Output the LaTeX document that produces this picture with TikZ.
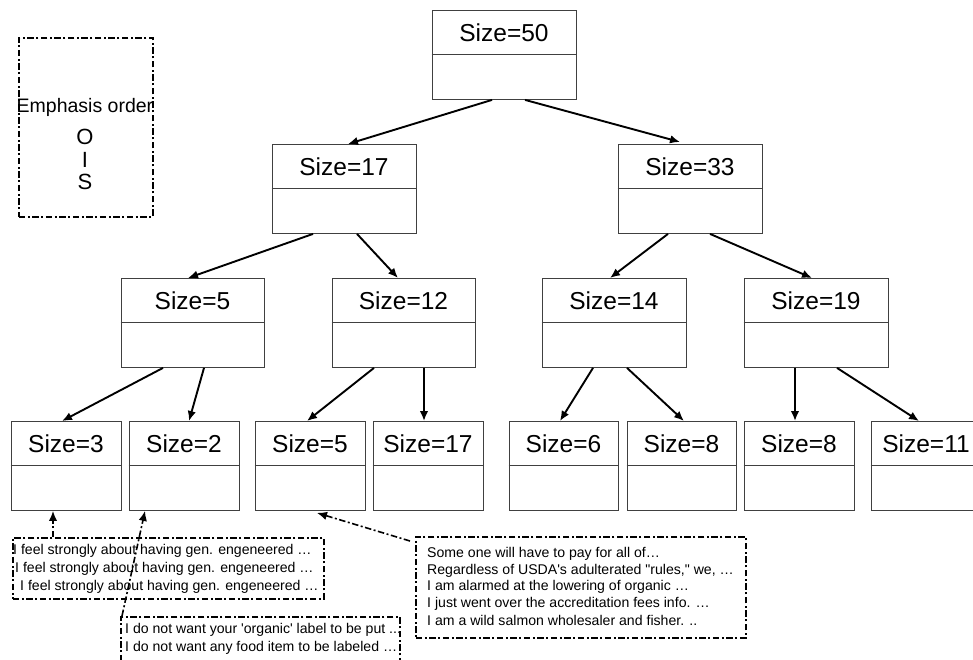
\documentclass[tikz,border=0pt]{standalone}
\usepackage{fontspec}
\newfontfamily\arial{Liberation Sans}
\usetikzlibrary{arrows.meta}

% size box: name, centre x, top y, width, label
\newcommand\sizenode[5]{%
  \node[sbox, minimum width=#4pt] (#1) at (#2,#3) {};
  \node[slabel] (#1-label) at ([yshift=-22.5pt]#1.north) {#5};
  \draw[boxline] ([yshift=-44.5pt]#1.north west) -- ([yshift=-44.5pt]#1.north east);
}

\begin{document}
\begin{tikzpicture}[x=1pt,y=-1pt,
  boxline/.style={draw=black!75, line width=0.9pt},
  sbox/.style={boxline, anchor=north, minimum height=89pt, inner sep=0pt},
  slabel/.style={font=\arial\fontsize{24.5}{28}\selectfont, inner sep=0pt},
  link/.style={line width=1.9pt, -{Latex[length=10pt,width=8.5pt]}},
  dashdot/.style={line width=1.6pt, dash pattern=on 6.5pt off 2.5pt on 2pt off 2.5pt},
  cbox/.style={draw, dashdot, anchor=north west, inner sep=0pt},
  ctext/.style={font=\arial\fontsize{14.1}{16}\selectfont, anchor=west, inner sep=0pt},
  etext/.style={font=\arial\fontsize{19.5}{23}\selectfont, inner sep=0pt},
  eletter/.style={font=\arial\fontsize{22}{24}\selectfont, inner sep=0pt},
  clink/.style={dashdot, -{Latex[length=10pt,width=8.5pt]}},
]
\clip (0,0) rectangle (973,659);
\fill[white] (0,0) rectangle (973,659);

% emphasis legend
\node[cbox, minimum width=134pt, minimum height=179pt] (emph) at (18,37) {};
\node[etext] (emph-1) at (85,107) {Emphasis order};
\node[eletter] (emph-2) at (85,137) {O};
\node[eletter] (emph-3) at (85,160) {I};
\node[eletter] (emph-4) at (85,182) {S};

% tree
\sizenode{n50}{504}{10}{144}{Size=50}
\sizenode{n17}{344}{144}{144}{Size=17}
\sizenode{n33}{690}{144}{144}{Size=33}
\sizenode{n5a}{192.5}{278}{143}{Size=5}
\sizenode{n12}{403.5}{278}{143}{Size=12}
\sizenode{n14}{614}{278}{144}{Size=14}
\sizenode{n19}{816}{278}{144}{Size=19}
\sizenode{n3}{66}{421}{110}{Size=3}
\sizenode{n2}{184}{421}{110}{Size=2}
\sizenode{n5b}{310}{421}{110}{Size=5}
\sizenode{n17b}{428}{421}{110}{Size=17}
\sizenode{n6}{563.5}{421}{109}{Size=6}
\sizenode{n8a}{681.5}{421}{109}{Size=8}
\sizenode{n8b}{799}{421}{110}{Size=8}
\sizenode{n11}{926}{421}{110}{Size=11}

\draw[link] ([xshift=-12pt]n50.south) -- ([xshift=4pt]n17.north);
\draw[link] ([xshift=21pt]n50.south) -- ([xshift=-10pt,yshift=2pt]n33.north);
\draw[link] ([xshift=-31pt]n17.south) -- ([xshift=-4.5pt]n5a.north);
\draw[link] ([xshift=13pt]n17.south) -- ([xshift=-5.5pt]n12.north);
\draw[link] ([xshift=-22pt]n33.south) -- ([xshift=-4pt]n14.north);
\draw[link] ([xshift=20pt]n33.south) -- ([xshift=-4pt]n19.north);
\draw[link] ([xshift=-29.5pt]n5a.south) -- ([xshift=-4pt]n3.north);
\draw[link] ([xshift=11.5pt]n5a.south) -- ([xshift=5pt]n2.north);
\draw[link] ([xshift=-29.5pt]n12.south) -- ([xshift=-3pt]n5b.north);
\draw[link] ([xshift=20.5pt]n12.south) -- ([xshift=-4pt]n17b.north);
\draw[link] ([xshift=-21pt]n14.south) -- ([xshift=-3.5pt]n6.north);
\draw[link] ([xshift=13pt]n14.south) -- ([xshift=2.5pt]n8a.north);
\draw[link] ([xshift=-21pt]n19.south) -- ([xshift=-4pt]n8b.north);
\draw[link] ([xshift=21pt]n19.south) -- ([xshift=-7pt]n11.north);

% comment boxes
\node[cbox, minimum width=311pt, minimum height=61pt] (cmtA) at (12,537) {};
\node[ctext] (cmtA-1) at (13,551) {I feel strongly about having gen. engeneered …};
\node[ctext] (cmtA-2) at (15,569) {I feel strongly about having gen. engeneered …};
\node[ctext] (cmtA-3) at (20,587) {I feel strongly about having gen. engeneered …};

\node[cbox, minimum width=279pt, minimum height=52pt] (cmtB) at (120,616) {};
\node[ctext] (cmtB-1) at (125,630) {I do not want your 'organic' label to be put ...};
\node[ctext] (cmtB-2) at (125,648) {I do not want any food item to be labeled …};

\node[cbox, minimum width=330pt, minimum height=101pt] (cmtC) at (415,536) {};
\node[ctext] (cmtC-1) at (427,554) {Some one will have to pay for all of…};
\node[ctext] (cmtC-2) at (427,571) {Regardless of USDA's adulterated "rules," we, …};
\node[ctext] (cmtC-3) at (427,587) {I am alarmed at the lowering of organic …};
\node[ctext] (cmtC-4) at (427,604) {I just went over the accreditation fees info. …};
\node[ctext] (cmtC-5) at (427,620) {I am a wild salmon wholesaler and fisher. ..};

\coordinate (tipA) at ([xshift=-13pt]n3.south);
\draw[clink] (tipA |- cmtA.north) -- (tipA);
\draw[clink] ([xshift=2pt]cmtB.north west) -- ([xshift=-39pt]n2.south);
\draw[clink] ([xshift=-5pt,yshift=-5pt]cmtC.north west) -- ([xshift=7pt,yshift=-2pt]n5b.south);
\end{tikzpicture}
\end{document}
